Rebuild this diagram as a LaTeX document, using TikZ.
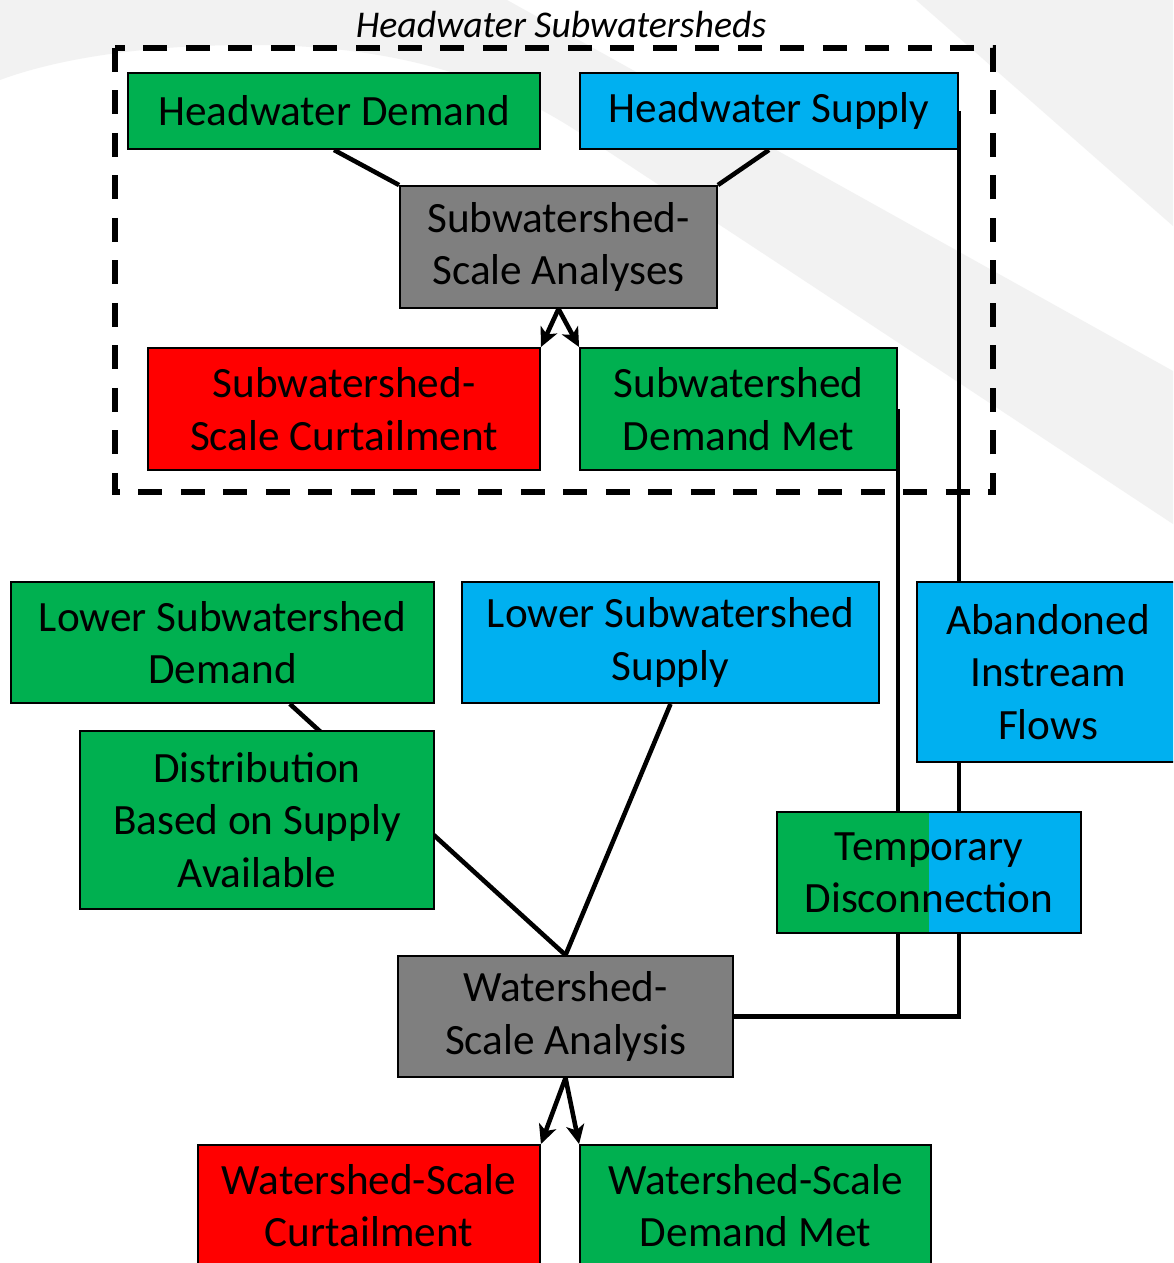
\documentclass[tikz,border=0pt]{standalone}
\usepackage{fontspec}
\setmainfont{Carlito}
\usetikzlibrary{arrows.meta, positioning, backgrounds}

\definecolor{demandgreen}{HTML}{00B050}
\definecolor{supplyblue}{HTML}{00B0F0}
\definecolor{curtailred}{HTML}{FF0000}
\definecolor{analysisgray}{HTML}{7F7F7F}
\definecolor{swooshgray}{HTML}{F2F2F2}

\tikzset{
  box/.style={draw=black, line width=1.1pt, align=center, inner sep=2pt,
    font=\fontsize{24.6}{29.8}\selectfont},
  demand/.style={box, fill=demandgreen},
  supply/.style={box, fill=supplyblue},
  curtail/.style={box, fill=curtailred},
  analysis/.style={box, fill=analysisgray},
  link/.style={line width=2.6pt},
  flow/.style={link, -{Stealth[length=3.8mm, width=3.6mm, inset=1mm]}}
}

\begin{document}
\begin{tikzpicture}[x=0.02cm, y=-0.02cm]
  \clip (0,0) rectangle (1173,1263);
  % slide background
  \begin{scope}[on background layer]
    \fill[white] (0,0) rectangle (1173,1263);
    \fill[swooshgray] (0,0) -- (507,0) -- (1173,371) -- (1173,524) -- (773,260) -- (583,135)
      .. controls (500,80) and (400,45) .. (250,45) .. controls (120,45) and (40,65) .. (0,80) -- cycle;
    \fill[swooshgray] (916,0) -- (1173,0) -- (1173,226) -- cycle;
  \end{scope}

  % Headwater subwatersheds
  \node[font=\fontsize{21.5}{25}\selectfont\itshape] (hwtitle) at (561,25) {Headwater Subwatersheds};
  \draw[line width=3.3pt, dash pattern=on 0.48cm off 0.37cm] (115,48) rectangle (993,492);
  \node[demand, minimum width=8.24cm, minimum height=1.52cm] (hdemand) at (334,111) {Headwater Demand};
  \node[supply, minimum width=7.56cm, minimum height=1.52cm] (hsupply) at (769,111) {Headwater Supply};
  \node[analysis, minimum width=6.34cm, minimum height=2.44cm] (sanalyses) at (558.5,247) {Subwatershed-\\Scale Analyses};
  \node[curtail, minimum width=7.84cm, minimum height=2.44cm] (scurtail) at (344,409) {Subwatershed-\\Scale Curtailment};
  \node[demand, minimum width=6.34cm, minimum height=2.44cm] (sdmet) at (738.5,409) {Subwatershed\\Demand Met};

  % Lower subwatersheds
  \node[demand, minimum width=8.46cm, minimum height=2.42cm] (ldemand) at (222.5,642.5) {Lower Subwatershed\\Demand};
  \node[supply, minimum width=8.34cm, minimum height=2.42cm] (lsupply) at (670.5,642.5) {Lower Subwatershed\\Supply};
  \node[supply, minimum width=5.24cm, minimum height=3.6cm] (abandoned) at (1048,672) {Abandoned\\Instream\\Flows};
  \node[demand, minimum width=7.08cm, minimum height=3.56cm] (distrib) at (257,820) {Distribution\\Based on Supply\\Available};
  \node[supply, minimum width=6.08cm, minimum height=2.42cm,
    path picture={\fill[demandgreen] (path picture bounding box.south west) rectangle (path picture bounding box.north);}]
    (tempdisc) at (929,872.5) {Temporary\\Disconnection};

  % Watershed scale
  \node[analysis, minimum width=6.7cm, minimum height=2.42cm] (wsa) at (565.5,1016.5) {Watershed-\\Scale Analysis};
  \node[curtail, minimum width=6.84cm, minimum height=2.42cm] (wcurtail) at (369,1205.5) {Watershed-Scale\\Curtailment};
  \node[demand, minimum width=7.02cm, minimum height=2.42cm] (wdmet) at (755.5,1205.5) {Watershed-Scale\\Demand Met};

  % connectors, behind the boxes
  \begin{scope}[on background layer]
    \draw[link] (hdemand.south) -- (sanalyses.north west);
    \draw[link] (hsupply.south) -- (sanalyses.north east);
    \draw[link] (hsupply.east) |- (wsa.east);
    \draw[link] (sdmet.east) |- (wsa.east);
    \draw[link] (ldemand) -- (wsa.north);
    \draw[link] (lsupply.south) -- (wsa.north);
  \end{scope}
  \draw[flow] (sanalyses.south) -- (scurtail.north east);
  \draw[flow] (sanalyses.south) -- (sdmet.north west);
  \draw[flow] (wsa.south) -- (wcurtail.north east);
  \draw[flow] (wsa.south) -- (wdmet.north west);
\end{tikzpicture}
\end{document}
